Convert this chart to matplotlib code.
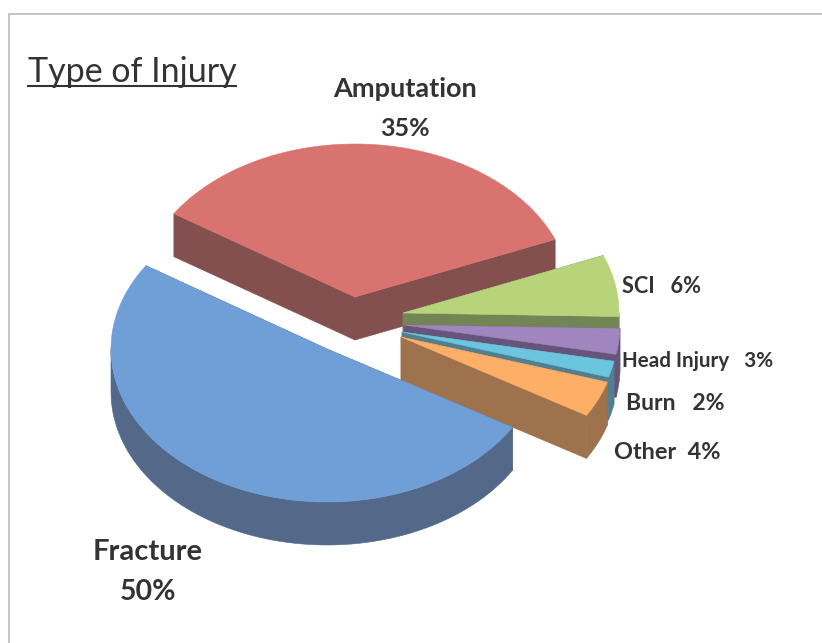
"""3D-looking exploded pie of injury types, drawn with plain matplotlib fills."""

import numpy as np
import matplotlib
matplotlib.use("Agg")
import matplotlib.pyplot as plt

# =============================================================================
# DATA
# =============================================================================
categories = ["Amputation", "SCI", "Head Injury", "Burn", "Other", "Fracture"]
shares = [34.7, 6.5, 2.7, 1.7, 3.8, 50.6]   # labels are rounded
label_texts = ["Amputation", "35%", "SCI   6%", "Head Injury   3%", "Burn   2%",
               "Other  4%", "Fracture", "50%"]
title_text = "Type of Injury"

# =============================================================================
# STYLE
# =============================================================================
top_colors = ["#D9736F", "#B7D47A", "#A085BE", "#6CC5DE", "#FDAE67", "#709FD7"]
wall_colors = ["#84504F", "#748555", "#67547B", "#4F7F90", "#9D724C", "#54688A"]
apex_x = [355, 403, 404, 402, 401, 327]   # exploded slice tips, pixels
apex_y = [297, 313, 325, 332, 337, 349]
label_x = [405, 405, 622, 622, 626, 614, 148, 148]
label_y = [97, 136, 293, 367, 410, 459, 560, 600]
label_size = [19.5, 18, 15.7, 14.9, 16.6, 16.9, 21, 20.5]
label_ha = ["center", "center", "left", "left", "left", "left", "center", "center"]
RX, RY = 216, 153      # ellipse radii of the tilted disc
DEPTH = 43             # wall height
START_ANGLE = 147      # degrees, slices run clockwise
TEXT_COLOR = "#333333"
FRAME_COLOR = "#B5B5B5"


def arc_points(cx, cy, a0, a1, n=80):
    """Points on the tilted disc rim between two angles (degrees)."""
    t = np.radians(np.linspace(a0, a1, n))
    return cx + RX * np.cos(t), cy - RY * np.sin(t)


def fill_poly(ax, x, y, color, z):
    ax.fill(x, y, facecolor=color, edgecolor=color, lw=0.4, zorder=z)


def draw_slice(ax, cx, cy, a0, a1, top, wall, z):
    """Cut walls, then the visible rim wall, then the top face."""
    ax_, ay_ = arc_points(cx, cy, a0, a1)

    # cut walls on both straight edges
    for k in (0, -1):
        fill_poly(ax, [cx, ax_[k], ax_[k], cx],
                  [cy, ay_[k], ay_[k] + DEPTH, cy + DEPTH], wall, z)

    # rim wall, only where the rim faces the viewer
    lo, hi = min(a0, a1), max(a0, a1)
    for shift in (-360, 0):
        w0, w1 = max(lo, -180 + shift), min(hi, 0 + shift)
        if w1 > w0:
            rx_, ry_ = arc_points(cx, cy, w0, w1)
            fill_poly(ax, np.r_[rx_, rx_[::-1]], np.r_[ry_, ry_[::-1] + DEPTH], wall, z)

    fill_poly(ax, np.r_[cx, ax_], np.r_[cy, ay_], top, z + 0.5)


fig = plt.figure(figsize=(8.22, 6.43), dpi=100)
ax = fig.add_axes([0, 0, 1, 1])
ax.set_xlim(0, 822)
ax.set_ylim(643, 0)
ax.axis("off")

# outer frame, open on the right and bottom
ax.plot([8.5, 8.5, 822], [643, 14, 14], color=FRAME_COLOR, lw=1.1, zorder=1)

# slices, back to front
sweeps = np.array(shares) / sum(shares) * 360
angle = START_ANGLE
for i, sweep in enumerate(sweeps):
    draw_slice(ax, apex_x[i], apex_y[i], angle, angle - sweep,
               top_colors[i], wall_colors[i], 2 + i)
    angle -= sweep

# labels
for i, txt in enumerate(label_texts):
    ax.text(label_x[i], label_y[i], txt, fontsize=label_size[i], family="Lato",
            fontweight="bold", color=TEXT_COLOR, ha=label_ha[i], va="baseline",
            zorder=10)

# underlined title
ax.text(28, 82, title_text, fontsize=24.5, family="Lato", color=TEXT_COLOR,
        ha="left", va="baseline", zorder=10)
ax.plot([28, 236], [86, 86], color=TEXT_COLOR, lw=1.5, zorder=10)

fig.savefig("out.png", dpi=100)
